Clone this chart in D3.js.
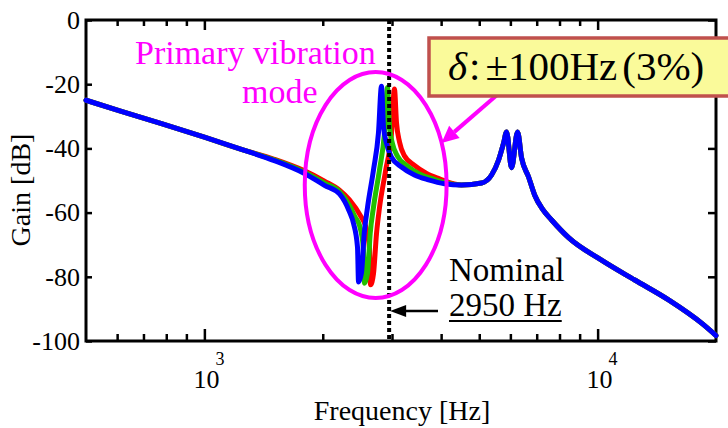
<!DOCTYPE html>
<html>
<head>
<meta charset="utf-8">
<script src="https://cdn.jsdelivr.net/npm/d3@7"></script>
<style>
  html, body { margin: 0; padding: 0; background: #fff; }
  svg { display: block; }
  text { font-family: "Liberation Serif", "Times New Roman", serif; }
</style>
</head>
<body>
<svg id="chart" width="728" height="428"></svg>
<script>
// ---- axis settings ----
const freqDomain = [500, 20000];
const gainDomain = [-100, 0];
const gainTicks = [0, -20, -40, -60, -80, -100];
const majorFreqTicks = [1000, 10000];
const majorFreqExponents = [3, 4];
const minorFreqTicks = [600, 700, 800, 900, 2000, 3000, 4000, 5000, 6000, 7000, 8000, 9000];
const nominalFreq = 2950;

// ---- shared low-frequency part of the gain curves ----
const lowFreq = [500, 615, 778, 1000, 1242];
const lowGain = [-25.0, -28.5, -32.3, -36.5, -40.3];

// ---- primary vibration mode, nominal - 100 Hz (blue) ----
const blueFreq = [1506, 1797, 2020, 2206, 2339, 2394, 2451, 2466, 2509, 2550, 2600, 2692, 2771, 2821, 2854, 2904, 2990, 3172, 3422, 3715, 4081];
const blueGain = [-43.8, -47.8, -51.5, -54.2, -59.8, -63.3, -70.7, -81.6, -78.8, -66.4, -58.3, -46.7, -35.2, -20.6, -33.3, -38.3, -42.7, -45.8, -48.3, -49.8, -51.0];

// ---- primary vibration mode, nominal (green) ----
const greenFreq = [1506, 1797, 2020, 2206, 2339, 2420, 2480, 2537, 2554, 2600, 2641, 2692, 2788, 2871, 2922, 2956, 3008, 3100, 3283, 3524, 3827, 4170];
const greenGain = [-43.6, -47.4, -50.8, -53.5, -57.8, -61.5, -64.0, -71.0, -82.0, -78.8, -66.4, -58.3, -46.7, -35.2, -21.0, -33.0, -38.5, -42.5, -45.5, -48.0, -49.6, -50.9];

// ---- primary vibration mode, nominal + 100 Hz (red) ----
const redFreq = [1506, 1797, 2020, 2206, 2339, 2509, 2567, 2629, 2645, 2692, 2740, 2788, 2889, 2990, 3043, 3080, 3135, 3226, 3422, 3672, 3963, 4300];
const redGain = [-43.4, -47.0, -50.2, -53.0, -56.0, -61.5, -64.0, -71.0, -82.5, -79.0, -66.5, -58.5, -47.0, -35.5, -21.5, -32.0, -38.0, -42.3, -45.3, -47.8, -49.5, -51.0];

// ---- shared high-frequency part (second mode pair and roll-off) ----
const highFreq = [4507, 5068, 5374, 5600, 5767, 5868, 6042, 6258, 6407, 6675, 6914, 7250, 7638, 8437, 10230, 12430, 15150, 18450, 20000];
const highGain = [-51.4, -50.8, -48.3, -43.6, -38.3, -34.9, -46.0, -34.9, -43.0, -48.9, -54.5, -59.0, -62.3, -67.8, -74.8, -81.0, -87.2, -94.6, -98.3];

const seriesNames = ["+100 Hz", "nominal", "-100 Hz"];
const seriesColors = ["#ff0000", "#22c000", "#0000ff"];

// annotation ellipse around the primary mode, in data units
const ellipseFreq = [1800, 4130];
const ellipseGain = [-16.2, -86.6];

// ---- layout ----
const svg = d3.select("#chart");
const plot = { left: 86, right: 716, top: 20, bottom: 341 };

const x = d3.scaleLog().domain(freqDomain).range([plot.left, plot.right]);
const y = d3.scaleLinear().domain(gainDomain).range([plot.bottom, plot.top]);

function zip(f, g) { return f.map((v, i) => ({ f: v, g: g[i] })); }
const seriesData = [
  zip(lowFreq.concat(redFreq, highFreq), lowGain.concat(redGain, highGain)),
  zip(lowFreq.concat(greenFreq, highFreq), lowGain.concat(greenGain, highGain)),
  zip(lowFreq.concat(blueFreq, highFreq), lowGain.concat(blueGain, highGain))
];

// ---- axes (ticks point inward on all four sides) ----
function styleAxis(g) {
  g.select(".domain").remove();
  g.selectAll(".tick line").attr("stroke", "#000").attr("stroke-width", 2.5);
}

svg.append("g").attr("transform", `translate(0,${plot.bottom})`)
  .call(d3.axisBottom(x).tickValues(minorFreqTicks).tickSize(-7).tickFormat(""))
  .call(styleAxis);
svg.append("g").attr("transform", `translate(0,${plot.bottom})`)
  .call(d3.axisBottom(x).tickValues(majorFreqTicks).tickSize(-12).tickFormat(""))
  .call(styleAxis);
svg.append("g").attr("transform", `translate(0,${plot.top})`)
  .call(d3.axisTop(x).tickValues(minorFreqTicks).tickSize(-6).tickFormat(""))
  .call(styleAxis);
svg.append("g").attr("transform", `translate(0,${plot.top})`)
  .call(d3.axisTop(x).tickValues(majorFreqTicks).tickSize(-10).tickFormat(""))
  .call(styleAxis);

const yAxisLeft = svg.append("g").attr("transform", `translate(${plot.left},0)`)
  .call(d3.axisLeft(y).tickValues(gainTicks).tickSize(-6).tickPadding(6).tickFormat(d => String(d)))
  .call(styleAxis);
yAxisLeft.selectAll(".tick text")
  .attr("font-family", "Liberation Serif, Times New Roman, serif")
  .attr("font-size", 26).attr("fill", "#000");

svg.append("g").attr("transform", `translate(${plot.right},0)`)
  .call(d3.axisRight(y).tickValues(gainTicks).tickSize(-8).tickFormat(""))
  .call(styleAxis);

// decade labels 10^3, 10^4
const decade = svg.append("g").selectAll("g").data(majorFreqTicks).join("g")
  .attr("transform", d => `translate(${x(d)},0)`);
decade.append("text").attr("x", 2).attr("y", 388).attr("text-anchor", "middle")
  .attr("font-size", 26).text("10");
decade.append("text").attr("x", 11).attr("y", 365)
  .attr("font-size", 18).text((d, i) => majorFreqExponents[i]);

// frame
svg.append("rect")
  .attr("x", plot.left).attr("y", plot.top)
  .attr("width", plot.right - plot.left).attr("height", plot.bottom - plot.top)
  .attr("fill", "none").attr("stroke", "#000").attr("stroke-width", 3);

// axis titles
svg.append("text").attr("x", 402).attr("y", 420).attr("text-anchor", "middle")
  .attr("font-size", 28).text("Frequency [Hz]");
svg.append("text").attr("transform", "translate(30,190) rotate(-90)")
  .attr("text-anchor", "middle").attr("font-size", 28).text("Gain [dB]");

// ---- gain curves ----
const line = d3.line().x(d => x(d.f)).y(d => y(d.g)).curve(d3.curveMonotoneX);
svg.append("g").selectAll("path").data(seriesData).join("path")
  .attr("d", line)
  .attr("fill", "none")
  .attr("stroke", (d, i) => seriesColors[i])
  .attr("stroke-width", 5)
  .attr("stroke-linejoin", "round")
  .attr("stroke-linecap", "round")
  .append("title").text((d, i) => seriesNames[i]);

// ---- nominal frequency marker ----
const xn = x(nominalFreq);
svg.append("line")
  .attr("x1", xn).attr("x2", xn).attr("y1", plot.top).attr("y2", plot.bottom)
  .attr("stroke", "#000").attr("stroke-width", 4).attr("stroke-dasharray", "4,3");

const arrowY = 311;
svg.append("line").attr("x1", xn + 12).attr("x2", 438).attr("y1", arrowY).attr("y2", arrowY)
  .attr("stroke", "#000").attr("stroke-width", 2.5);
svg.append("path")
  .attr("d", `M${xn + 1},${arrowY} L${xn + 17},${arrowY - 6} L${xn + 17},${arrowY + 6} Z`)
  .attr("fill", "#000");

svg.append("text").attr("x", 449).attr("y", 281).attr("font-size", 33).text("Nominal");
const freqLabel = svg.append("text").attr("x", 449).attr("y", 316).attr("font-size", 33)
  .text(`${nominalFreq} Hz`);
const fb = freqLabel.node().getBBox();
svg.append("line").attr("x1", fb.x).attr("x2", fb.x + fb.width).attr("y1", 321).attr("y2", 321)
  .attr("stroke", "#000").attr("stroke-width", 2);

// ---- primary mode ellipse and caption ----
const ex0 = x(ellipseFreq[0]), ex1 = x(ellipseFreq[1]);
const ey0 = y(ellipseGain[0]), ey1 = y(ellipseGain[1]);
const ecx = (ex0 + ex1) / 2, ecy = (ey0 + ey1) / 2;
const erx = (ex1 - ex0) / 2, ery = (ey1 - ey0) / 2;
svg.append("ellipse")
  .attr("cx", ecx).attr("cy", ecy).attr("rx", erx).attr("ry", ery)
  .attr("fill", "none").attr("stroke", "#ff00ff").attr("stroke-width", 4);

svg.append("text").attr("x", 135).attr("y", 64).attr("font-size", 34)
  .attr("fill", "#ff00ff").text("Primary vibration");
svg.append("text").attr("x", 242).attr("y", 103).attr("font-size", 34)
  .attr("fill", "#ff00ff").text("mode");

// arrow from the tolerance box to the ellipse
const tipY = 143;
const tipX = ecx + erx * Math.sqrt(1 - Math.pow((tipY - ecy) / ery, 2));
const startX = 497, startY = 95;
const ang = Math.atan2(tipY - startY, tipX - startX);
const headLen = 17, headW = 8;
const bx = tipX - headLen * Math.cos(ang), by = tipY - headLen * Math.sin(ang);
svg.append("line").attr("x1", startX).attr("y1", startY).attr("x2", bx).attr("y2", by)
  .attr("stroke", "#ff00ff").attr("stroke-width", 4);
svg.append("path")
  .attr("d", `M${tipX},${tipY} L${bx + headW * Math.sin(ang)},${by - headW * Math.cos(ang)} L${bx - headW * Math.sin(ang)},${by + headW * Math.cos(ang)} Z`)
  .attr("fill", "#ff00ff");

// ---- tolerance box ----
svg.append("rect").attr("x", 429).attr("y", 38).attr("width", 310).attr("height", 58)
  .attr("fill", "#fafa9a").attr("stroke", "#c0504d").attr("stroke-width", 3.5);
const boxText = svg.append("text").attr("x", 448).attr("y", 80).attr("font-size", 41);
boxText.append("tspan").attr("font-style", "italic").text("δ");
boxText.append("tspan").attr("dx", 2).text(":");
boxText.append("tspan").attr("dx", 5).text("±100Hz");
boxText.append("tspan").attr("dx", 5).text("(3%)");
</script>
</body>
</html>
